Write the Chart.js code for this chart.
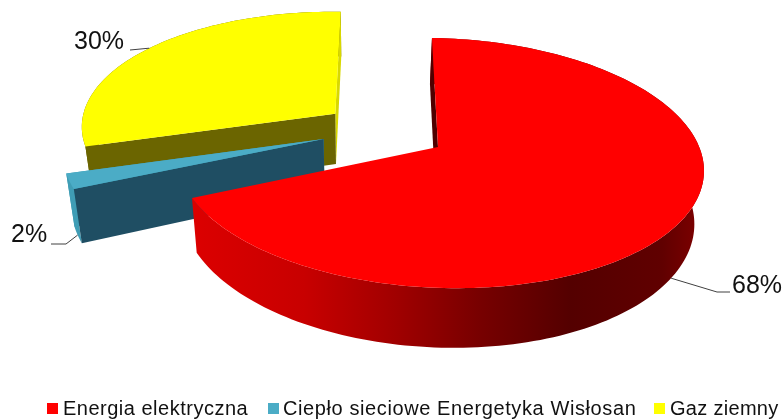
<!DOCTYPE html>
<html>
<head>
<meta charset="utf-8">
<title>Struktura zużycia energii</title>
<script src="https://cdn.jsdelivr.net/npm/chart.js@4"></script>
<style>
  html, body { margin: 0; padding: 0; background: #fff; }
  canvas { display: block; }
</style>
</head>
<body>
<canvas id="pieChart" width="783" height="419"></canvas>
<script>
const categories = ["Energia elektryczna", "Ciepło sieciowe Energetyka Wisłosan", "Gaz ziemny"];
const shares = [68, 2, 30];
const topColors = ["#ff0000", "#4bacc6", "#ffff00"];

// wall colours per slice: start edge, end edge, rim (the red end edge faces away)
const wallColors = [
  { start: "#4f0000", end: null, rim: null },
  { start: "#1f4e63", end: "#3f9db5", rim: "#3f9db5" },
  { start: "#6b6500", end: "#d8d800", rim: "#6b6500" },
];
// exploded slices, in pie-plane units (1 = radius)
const explode = [[0, 0], [-0.44, 0.05], [-0.4, 0.265]];

// leader lines and percent labels
const leaderOnWall = [true, true, false];
const leaderKnees = [[[717, 292], [730, 292]], [[66, 244], [51, 244]], [[130, 50]]];
const labelPos = [[732, 293], [11, 242], [74, 49]];

// legend layout
const legendBoxX = [47, 268, 654];
const legendTextX = [63, 283, 670];
const legendSpacing = ["0.5px", "0.6px", "0.3px"];

// tilted, slightly perspective view of the pie plane
const view = { cx: 438, cy: 147, a: 261.5, b: 123, skewX: -6.8, skewY: 4.4, k: 0.128, m: 0.005 };
const depth = 52;
const vanishX = 360;
const converge = 0.028;

function project(u, v) {
  const w = 1 + view.k * v - view.m * u;
  return {
    x: view.cx + (view.a * u + view.skewX * v) / w,
    y: view.cy + (-view.b * v + view.skewY * u) / w,
    w,
  };
}

function lower(p) {
  return { x: p.x - (p.x - vanishX) * converge, y: p.y + depth / p.w };
}

function rimPoint(angle, shift) {
  // Chart.js angles: 0 points right, growing clockwise
  return project(Math.cos(angle) + shift[0], -Math.sin(angle) + shift[1]);
}

function fillPoly(ctx, pts, fill) {
  ctx.beginPath();
  pts.forEach((p, i) => (i ? ctx.lineTo(p.x, p.y) : ctx.moveTo(p.x, p.y)));
  ctx.closePath();
  ctx.fillStyle = fill;
  ctx.fill();
}

function sampleRim(start, end, shift) {
  const pts = [];
  const n = Math.max(4, Math.ceil((end - start) * 40));
  for (let i = 0; i <= n; i++) pts.push(rimPoint(start + ((end - start) * i) / n, shift));
  return pts;
}

function redWall(ctx) {
  const g = ctx.createLinearGradient(192, 0, 703, 0);
  g.addColorStop(0, "#dc0000");
  g.addColorStop(0.22, "#c80000");
  g.addColorStop(0.4, "#a00000");
  g.addColorStop(0.56, "#780000");
  g.addColorStop(0.74, "#540000");
  g.addColorStop(0.92, "#600000");
  g.addColorStop(1, "#800000");
  return g;
}

const pie3d = {
  id: "pie3d",
  beforeDatasetsDraw(chart) {
    const ctx = chart.ctx;
    const arcs = chart.getDatasetMeta(0).data;
    // far slices first
    [2, 1, 0].forEach((i) => {
      const arc = arcs[i];
      const shift = explode[i];
      const rim = sampleRim(arc.startAngle, arc.endAngle, shift);
      const apex = project(shift[0], shift[1]);
      const first = rim[0];
      const last = rim[rim.length - 1];
      const walls = wallColors[i];

      ctx.save();
      fillPoly(ctx, rim.concat(rim.map(lower).reverse()), walls.rim || redWall(ctx));
      if (walls.end) fillPoly(ctx, [apex, last, lower(last), lower(apex)], walls.end);
      fillPoly(ctx, [apex, first, lower(first), lower(apex)], walls.start);
      fillPoly(ctx, [apex].concat(rim), arc.options.backgroundColor);
      ctx.restore();
    });
    return false;
  },
  afterDraw(chart) {
    const ctx = chart.ctx;
    const arcs = chart.getDatasetMeta(0).data;

    ctx.save();
    arcs.forEach((arc, i) => {
      const mid = (arc.startAngle + arc.endAngle) / 2;
      let from = rimPoint(mid, explode[i]);
      if (leaderOnWall[i]) from = lower(from);
      ctx.beginPath();
      ctx.moveTo(from.x, from.y);
      leaderKnees[i].forEach((k) => ctx.lineTo(k[0], k[1]));
      ctx.strokeStyle = "#404040";
      ctx.lineWidth = 1;
      ctx.stroke();

      ctx.fillStyle = "#111";
      ctx.font = '25px "Liberation Sans"';
      ctx.textAlign = "left";
      ctx.textBaseline = "alphabetic";
      ctx.fillText(shares[i] + "%", labelPos[i][0], labelPos[i][1]);
    });

    // legend row
    ctx.font = '20px "Liberation Sans"';
    categories.forEach((name, i) => {
      ctx.letterSpacing = legendSpacing[i];
      ctx.fillStyle = topColors[i];
      ctx.fillRect(legendBoxX[i], 403, 11, 11);
      ctx.fillStyle = "#111";
      ctx.fillText(name, legendTextX[i], 415);
    });
    ctx.restore();
  },
};

new Chart(document.getElementById("pieChart"), {
  type: "pie",
  data: {
    labels: categories,
    datasets: [{ data: shares, backgroundColor: topColors, borderWidth: 0 }],
  },
  options: {
    responsive: false,
    animation: false,
    plugins: { legend: { display: false }, tooltip: { enabled: false } },
  },
  plugins: [pie3d],
});
</script>
</body>
</html>
